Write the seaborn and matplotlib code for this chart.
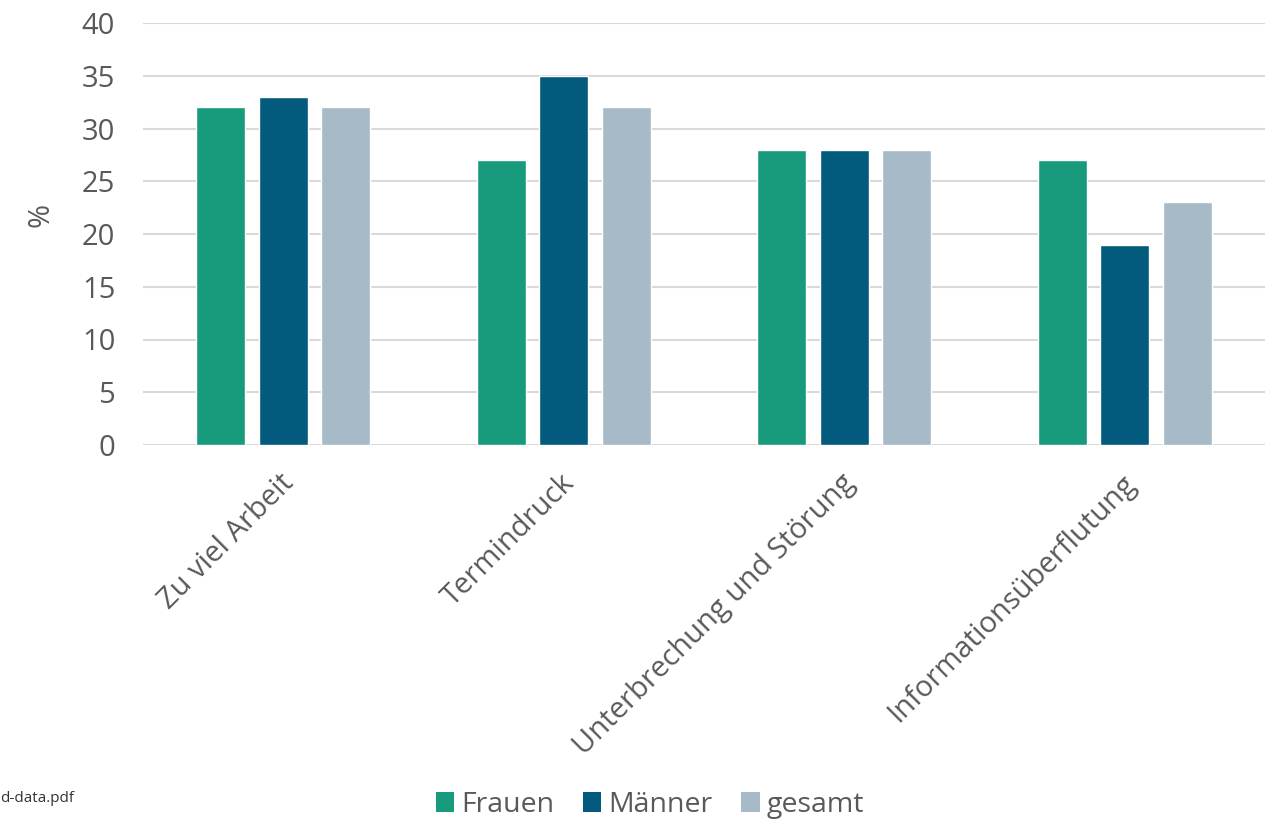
import matplotlib
matplotlib.use("Agg")
import matplotlib.pyplot as plt
import seaborn as sns
import pandas as pd
from matplotlib.patches import Patch

categories = ["Zu viel Arbeit", "Termindruck", "Unterbrechung und Störung", "Informationsüberflutung"]
frauen = [32, 27, 28, 27]
maenner = [33, 35, 28, 19]
gesamt = [32, 32, 28, 23]
series = ["Frauen", "Männer", "gesamt"]
colors = ["#189B7C", "#025A7C", "#A6BAC7"]
yticks = [0, 5, 10, 15, 20, 25, 30, 35, 40]

df = pd.DataFrame({
    "Kategorie": categories * 3,
    "Wert": frauen + maenner + gesamt,
    "Gruppe": [series[0]] * 4 + [series[1]] * 4 + [series[2]] * 4,
})

sns.set_theme(style="white")
plt.rcParams["font.family"] = ["Open Sans", "DejaVu Sans"]
txt = "#595959"

fig = plt.figure(figsize=(12.66, 8.23), dpi=100)
ax = fig.add_axes([143 / 1266, 1 - 445 / 823, 1122 / 1266, 422 / 823])

sns.barplot(data=df, x="Kategorie", y="Wert", hue="Gruppe", order=categories,
            hue_order=series, palette=colors, width=0.668, gap=0.216,
            saturation=1, legend=False, ax=ax, zorder=3)

ax.set_xlim(-0.5, 3.5)
ax.set_ylim(0, 40)
ax.set_yticks(yticks)
ax.set_yticklabels([str(v) for v in yticks], fontsize=21, color=txt)
ax.yaxis.grid(True, color="#D9D9D9", linewidth=1.5, zorder=0)
ax.set_axisbelow(True)
for s in ax.spines.values():
    s.set_visible(False)
ax.tick_params(axis="both", length=0)
ax.tick_params(axis="y", pad=20)
ax.set_xlabel("")
ax.set_ylabel("%", fontsize=21, color=txt)
ax.yaxis.set_label_coords((55 - 143) / 1122, (445 - 215) / 422)
ax.set_xticks(range(len(categories)))
ax.set_xticklabels(categories, rotation=45, ha="right", rotation_mode="anchor",
                   fontsize=21, color=txt)
for lbl in ax.get_xticklabels():
    lbl.set_transform(lbl.get_transform() + matplotlib.transforms.ScaledTranslation(-0.04, -0.19, fig.dpi_scale_trans))

handles = [Patch(facecolor=c, edgecolor="none") for c in colors]
fig.legend(handles, series, loc="center", bbox_to_anchor=(650 / 1266, 1 - 805 / 823),
           ncol=3, frameon=False, fontsize=20.5, labelcolor=txt, handlelength=0.65,
           handleheight=0.65, handletextpad=0.25, columnspacing=1.0)

fig.text(0, 1 - 798 / 823, "d-data.pdf", fontsize=11, color="#333333", va="center", ha="left")

fig.savefig("out.png", dpi=100)
